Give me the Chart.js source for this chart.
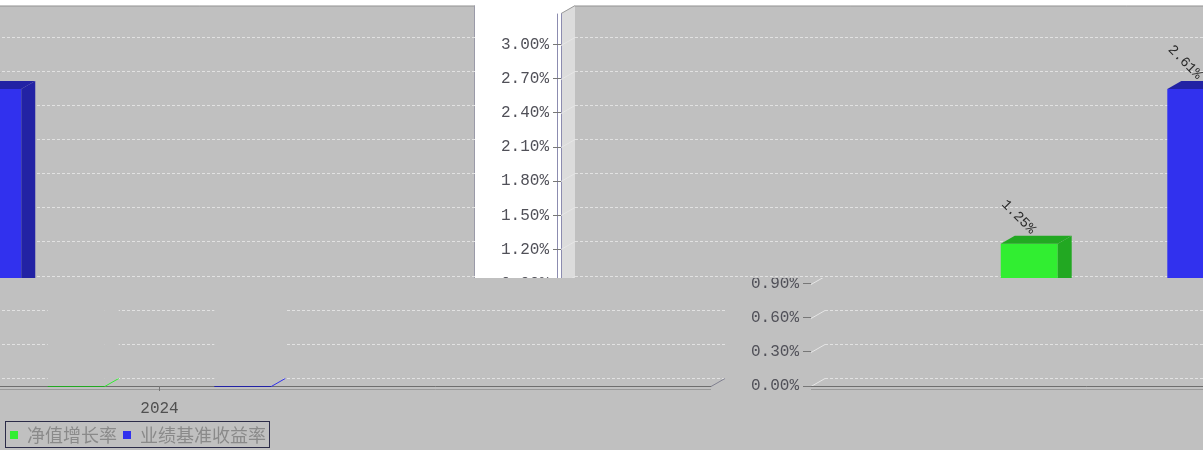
<!DOCTYPE html>
<html>
<head>
<meta charset="utf-8">
<script src="https://cdn.jsdelivr.net/npm/chart.js@4/dist/chart.umd.min.js"></script>
<style>
  body { margin: 0; background: #fff; }
  #view { display: block; }
  #work { position: absolute; left: -5000px; top: 0; }
</style>
</head>
<body>
<canvas id="view" width="1203" height="450"></canvas>
<div id="work">
  <canvas id="srcTop" width="1203" height="450"></canvas>
  <canvas id="srcBottom" width="1203" height="450"></canvas>
</div>
<script>
// data
const categories = ['2024'];
const seriesNames = ['净值增长率', '业绩基准收益率'];
const navGrowth = [1.25];
const benchmark = [2.61];

const W = 1203, H = 450;
const PLOT_BG = '#c0c0c0';
const FRONT = ['#31ee31', '#3131ee'];
const SIDE = ['#22a822', '#2222a4'];
const DX = 14, DY = 8;

// the picture is two strips of the same chart, each rolled sideways
const SPLIT = 278;
const TOP_SHIFT = 498;
const BOTTOM_SHIFT = 748;

// where the legend sits in the unrolled chart
const LEGEND_CENTER = 593;
const LEGEND_TOP = 426;

const monoFont = { family: '"Liberation Mono", monospace', size: 16 };

function poly(ctx, pts) {
    ctx.beginPath();
    ctx.moveTo(pts[0][0], pts[0][1]);
    for (let i = 1; i < pts.length; i++) ctx.lineTo(pts[i][0], pts[i][1]);
    ctx.closePath();
}

function line(ctx, x1, y1, x2, y2, color, dash) {
    ctx.beginPath();
    ctx.setLineDash(dash || []);
    ctx.strokeStyle = color;
    ctx.moveTo(x1, y1);
    ctx.lineTo(x2, y2);
    ctx.stroke();
    ctx.setLineDash([]);
}

function threeD(mode) {
    return {
        id: 'threeD',
        afterUpdate(chart) {
            // nudge the legend to where it is in the picture
            const lg = chart.legend;
            const hb = lg.legendHitBoxes;
            if (!hb || !hb.length) return;
            const last = hb[hb.length - 1];
            const sx = Math.round(LEGEND_CENTER - (hb[0].left + last.left + last.width) / 2);
            const sy = Math.round(LEGEND_TOP - hb[0].top);
            lg.left += sx; lg.right += sx;
            lg.top += sy; lg.bottom += sy;
            hb.forEach(h => { h.left += sx; h.top += sy; });
        },
        beforeDraw(chart) {
            const { ctx, chartArea: a } = chart;
            const y = chart.scales.y;
            ctx.save();
            ctx.lineWidth = 1;
            ctx.fillStyle = mode === 'top' ? '#ffffff' : PLOT_BG;
            ctx.fillRect(0, 0, chart.width, chart.height);
            // back wall
            ctx.fillStyle = PLOT_BG;
            ctx.fillRect(a.left + DX, a.top - DY, a.right - a.left, a.bottom - a.top);
            // left wall
            ctx.fillStyle = mode === 'top' ? '#dcdcdc' : PLOT_BG;
            poly(ctx, [[a.left, a.top], [a.left + DX, a.top - DY], [a.left + DX, a.bottom - DY], [a.left, a.bottom]]);
            ctx.fill();
            // floor
            ctx.fillStyle = PLOT_BG;
            poly(ctx, [[a.left, a.bottom], [a.left + DX, a.bottom - DY], [a.right + DX, a.bottom - DY], [a.right, a.bottom]]);
            ctx.fill();
            if (mode === 'top') {
                line(ctx, a.left + DX, a.top - DY + 0.5, a.right + DX, a.top - DY + 0.5, '#9a9a9a');
                line(ctx, a.right + DX - 0.5, a.top - DY, a.right + DX - 0.5, a.bottom - DY, '#9a9aa8');
                line(ctx, a.left, a.top, a.left + DX, a.top - DY, '#9a9a9a');
                line(ctx, a.left - 3.5, a.top, a.left - 3.5, a.bottom, '#8c8cb0');
                line(ctx, a.left + 0.5, a.top, a.left + 0.5, a.bottom, '#8c8cb0');
            }
            // gridlines on the back wall
            y.ticks.forEach(t => {
                const py = Math.round(y.getPixelForValue(t.value)) + 0.5;
                line(ctx, a.left + DX, py - DY, a.right + DX, py - DY, '#e2e2e2', [3, 2]);
                line(ctx, a.left, py, a.left + DX, py - DY, '#e6e6e6');
            });
            // floor edges
            const b = Math.round(a.bottom) + 0.5;
            line(ctx, a.left, b, a.right, b, '#6e6e6e');
            line(ctx, a.left, b + 3, a.right, b + 3, '#9a9a9a');
            line(ctx, a.right, b, a.right + DX, b - DY, '#808090');
            ctx.restore();
        },
        afterDatasetsDraw(chart) {
            const ctx = chart.ctx;
            ctx.save();
            ctx.lineWidth = 1;
            chart.data.datasets.forEach((ds, i) => {
                chart.getDatasetMeta(i).data.forEach((bar, j) => {
                    const { x, y, base, width } = bar.getProps(['x', 'y', 'base', 'width'], true);
                    const l = x - width / 2, r = x + width / 2;
                    if (mode === 'top') {
                        ctx.fillStyle = SIDE[i];
                        poly(ctx, [[r, y], [r + DX, y - DY], [r + DX, base - DY], [r, base]]);
                        ctx.fill();
                        poly(ctx, [[l, y], [l + DX, y - DY], [r + DX, y - DY], [r, y]]);
                        ctx.fill();
                        // value label
                        ctx.save();
                        ctx.translate(x + 4, y - DY - 4);
                        ctx.rotate(Math.PI / 4);
                        ctx.font = '14px "Liberation Mono", monospace';
                        ctx.fillStyle = '#2a2a2a';
                        ctx.textAlign = 'right';
                        ctx.textBaseline = 'middle';
                        ctx.fillText(ds.data[j].toFixed(2) + '%', 0, 0);
                        ctx.restore();
                    } else {
                        ctx.fillStyle = PLOT_BG;
                        poly(ctx, [[r, y], [r + DX, y - DY], [r + DX, base - DY], [r, base]]);
                        ctx.fill();
                        const b = Math.round(base) + 0.5;
                        line(ctx, l, b, r, b, SIDE[i]);
                        line(ctx, r, b, r + DX, b - DY, FRONT[i]);
                    }
                });
            });
            ctx.restore();
        },
        afterDraw(chart) {
            // box round the legend
            const hb = chart.legend.legendHitBoxes;
            if (!hb || !hb.length) return;
            const last = hb[hb.length - 1];
            const ctx = chart.ctx;
            const x0 = Math.round(hb[0].left) - 4.5;
            const x1 = Math.round(last.left + last.width) + 3.5;
            const y0 = Math.round(hb[0].top) - 4.5;
            const y1 = Math.round(hb[0].top + hb[0].height) + 3.5;
            ctx.save();
            ctx.strokeStyle = '#2c2c48';
            ctx.lineWidth = 1;
            ctx.strokeRect(x0, y0, x1 - x0, y1 - y0);
            ctx.restore();
        }
    };
}

function makeChart(id, mode) {
    const datasets = [navGrowth, benchmark].map((values, i) => ({
        label: seriesNames[i],
        data: values,
        backgroundColor: mode === 'top' ? FRONT[i] : PLOT_BG,
        borderWidth: 0,
        categoryPercentage: 0.302,
        barPercentage: 0.342
    }));
    return new Chart(document.getElementById(id), {
        type: 'bar',
        data: { labels: categories, datasets: datasets },
        options: {
            responsive: false,
            animation: false,
            devicePixelRatio: 1,
            layout: { padding: { left: 2, right: 37, top: 13, bottom: 0 } },
            scales: {
                x: {
                    grid: { display: true, drawOnChartArea: false, offset: false, tickLength: 5, color: '#777777' },
                    border: { display: false },
                    ticks: { color: '#505050', font: monoFont, padding: 8 },
                    afterFit: s => { s.height = 30; }
                },
                y: {
                    min: 0,
                    max: 3.2735,
                    grid: { display: true, drawOnChartArea: false, tickLength: 8, color: '#777777' },
                    border: { display: false },
                    ticks: {
                        stepSize: 0.3,
                        includeBounds: false,
                        padding: 4,
                        color: '#505058',
                        font: monoFont,
                        callback: v => v.toFixed(2) + '%'
                    },
                    afterFit: s => { s.width = 61; }
                }
            },
            plugins: {
                legend: {
                    position: 'bottom',
                    labels: {
                        boxWidth: 8,
                        boxHeight: 8,
                        padding: 6,
                        color: '#8a8a8a',
                        font: { family: '"Noto Sans CJK SC", sans-serif', size: 18 },
                        generateLabels: c => c.data.datasets.map((ds, i) => ({
                            text: ds.label,
                            fillStyle: FRONT[i],
                            strokeStyle: FRONT[i],
                            fontColor: '#8a8a8a',
                            lineWidth: 0,
                            hidden: false,
                            datasetIndex: i
                        }))
                    }
                },
                tooltip: { enabled: false }
            }
        },
        plugins: [threeD(mode)]
    });
}

const topChart = makeChart('srcTop', 'top');
const bottomChart = makeChart('srcBottom', 'bottom');

function compose() {
    const v = document.getElementById('view').getContext('2d');
    v.fillStyle = '#ffffff';
    v.fillRect(0, 0, W, H);
    [TOP_SHIFT, TOP_SHIFT - W].forEach(dx => {
        v.drawImage(topChart.canvas, 0, 0, W, SPLIT, dx, 0, W, SPLIT);
    });
    [BOTTOM_SHIFT, BOTTOM_SHIFT - W].forEach(dx => {
        v.drawImage(bottomChart.canvas, 0, SPLIT, W, H - SPLIT, dx, SPLIT, W, H - SPLIT);
    });
}
compose();
setTimeout(compose, 200);
</script>
</body>
</html>
